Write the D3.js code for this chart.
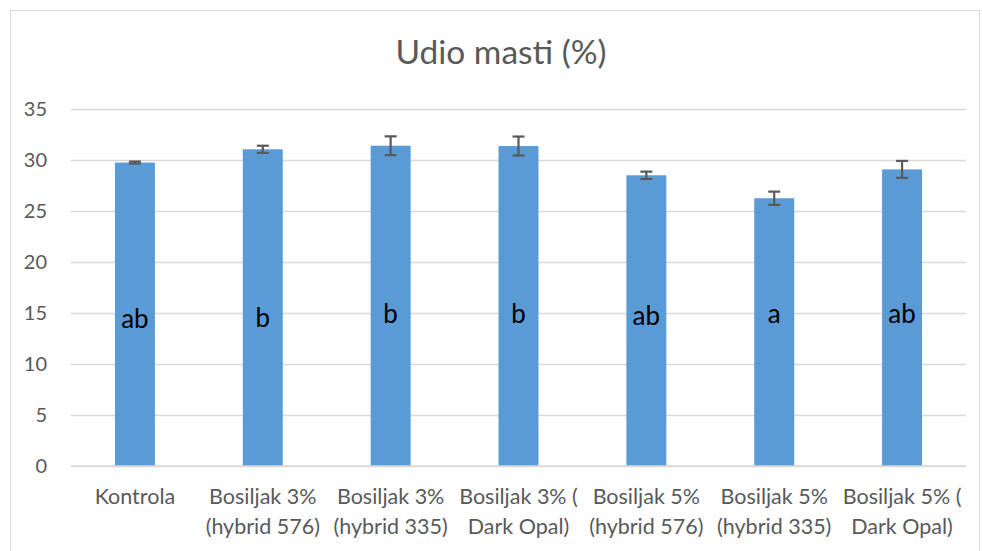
<!DOCTYPE html>
<html>
<head>
<meta charset="utf-8">
<script src="https://cdn.jsdelivr.net/npm/d3@7"></script>
<style>
  body { margin: 0; background: #fff; }
  svg { font-family: Lato, "Open Sans", sans-serif; }
</style>
</head>
<body>
<div class="chart"></div>
<script>
// data
var categories = [
  ["Kontrola"],
  ["Bosiljak 3%", "(hybrid 576)"],
  ["Bosiljak 3%", "(hybrid 335)"],
  ["Bosiljak 3% (", "Dark Opal)"],
  ["Bosiljak 5%", "(hybrid 576)"],
  ["Bosiljak 5%", "(hybrid 335)"],
  ["Bosiljak 5% (", "Dark Opal)"]
];
var fatValues = [29.75, 31.05, 31.4, 31.37, 28.5, 26.25, 29.08];
var fatErrors = [0.1, 0.35, 0.92, 0.93, 0.36, 0.65, 0.83];
var groupLetters = ["ab", "b", "b", "b", "ab", "a", "ab"];
var letterPos = [14.4, 14.5, 14.9, 14.9, 14.7, 14.9, 14.9];
var yTicks = [0, 5, 10, 15, 20, 25, 30, 35];

var svgWidth = 982;
var svgHeight = 551;

var margin = { top: 109, right: 16, bottom: 85, left: 71 };
var width = 966 - margin.left;
var height = 466 - margin.top;

var svg = d3.select(".chart")
  .append("svg")
  .attr("width", svgWidth)
  .attr("height", svgHeight);

// chart border
svg.append("rect")
  .attr("x", 10.5).attr("y", 10.5)
  .attr("width", 969).attr("height", 560)
  .attr("fill", "none")
  .attr("stroke", "#d9d9d9");

svg.append("text")
  .attr("x", 501)
  .attr("y", 64)
  .attr("text-anchor", "middle")
  .attr("font-size", 33.5)
  .attr("fill", "#595959")
  .text("Udio masti (%)");

var chartGroup = svg.append("g")
  .attr("transform", `translate(${margin.left}, ${margin.top})`);

var x = d3.scaleBand()
  .domain(d3.range(categories.length))
  .range([0, width])
  .paddingInner(0.6875)
  .paddingOuter(0.34375);

var y = d3.scaleLinear()
  .domain([0, 35])
  .range([height, 0]);

// gridlines + y labels
var yAxis = chartGroup.append("g")
  .call(d3.axisLeft(y).tickValues(yTicks).tickSize(-width).tickPadding(24));
yAxis.select(".domain").remove();
yAxis.selectAll(".tick line").attr("stroke", "#d9d9d9").attr("stroke-width", 1.3);
yAxis.selectAll(".tick text").attr("font-size", 20).attr("fill", "#595959")
  .attr("font-family", "Lato");

// bars
chartGroup.append("g")
  .selectAll("rect")
  .data(fatValues)
  .join("rect")
  .attr("x", (d, i) => x(i))
  .attr("y", d => y(d))
  .attr("width", x.bandwidth())
  .attr("height", d => height - y(d))
  .attr("fill", "#5b9bd5");

// error bars
var err = chartGroup.append("g")
  .attr("stroke", "#595959")
  .attr("stroke-width", 2.2);
fatValues.forEach(function(v, i) {
  var cx = x(i) + x.bandwidth() / 2;
  var e = fatErrors[i];
  err.append("line").attr("x1", cx).attr("x2", cx).attr("y1", y(v + e)).attr("y2", y(v - e));
  err.append("line").attr("x1", cx - 6).attr("x2", cx + 6).attr("y1", y(v + e)).attr("y2", y(v + e));
  err.append("line").attr("x1", cx - 6).attr("x2", cx + 6).attr("y1", y(v - e)).attr("y2", y(v - e));
});

// letters
chartGroup.append("g")
  .selectAll("text")
  .data(groupLetters)
  .join("text")
  .attr("x", (d, i) => x(i) + x.bandwidth() / 2)
  .attr("y", (d, i) => y(letterPos[i]))
  .attr("dy", "0.35em")
  .attr("text-anchor", "middle")
  .attr("font-size", 26)
  .attr("fill", "#000")
  .text(d => d);

// x axis line
chartGroup.append("line")
  .attr("x1", 0).attr("x2", width)
  .attr("y1", height).attr("y2", height)
  .attr("stroke", "#d9d9d9").attr("stroke-width", 1.3);

// category labels
var xl = chartGroup.append("g")
  .selectAll("text")
  .data(categories)
  .join("text")
  .attr("x", (d, i) => x(i) + x.bandwidth() / 2)
  .attr("y", height + 38)
  .attr("text-anchor", "middle")
  .attr("font-size", 21.5)
  .attr("fill", "#595959");
xl.selectAll("tspan")
  .data(d => d)
  .join("tspan")
  .attr("x", function() { return d3.select(this.parentNode).attr("x"); })
  .attr("dy", (d, i) => i === 0 ? 0 : 30)
  .text(d => d);
</script>
</body>
</html>
